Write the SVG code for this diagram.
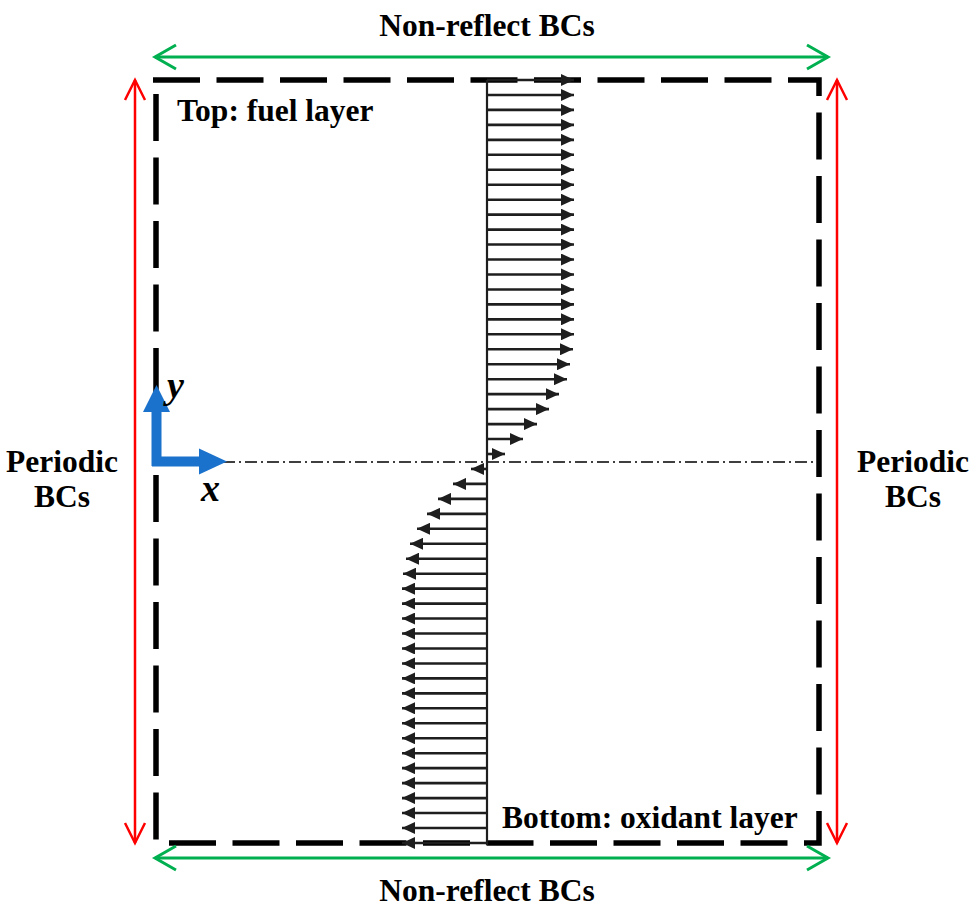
<svg xmlns="http://www.w3.org/2000/svg" width="980" height="916" viewBox="0 0 980 916">
<defs>
<style>
.lbl{font-family:"Liberation Serif","Times New Roman",serif;font-weight:bold;font-size:31.5px;fill:#000}
.ax{font-family:"Liberation Serif","Times New Roman",serif;font-weight:bold;font-style:italic;font-size:38px;fill:#000}
.vel{stroke:#1e1e1e;stroke-width:2.6;fill:none;marker-end:url(#vh)}
.grn{stroke:#00b050;stroke-width:3;fill:none}
.red{stroke:#ff0000;stroke-width:2.5;fill:none}
</style>
<marker id="vh" markerUnits="userSpaceOnUse" markerWidth="13" markerHeight="12" refX="13" refY="6" orient="auto">
<path d="M0,0 L13,6 L0,12 z" fill="#1e1e1e"/>
</marker>
</defs>
<rect width="980" height="916" fill="#fff"/>

<g id="domain">
<path d="M153,80 H819 V843 H156 V80" fill="none" stroke="#000" stroke-width="5.5" stroke-dasharray="47 16.5"/>
</g>

<g id="centerline">
<line x1="157" y1="462" x2="819" y2="462" stroke="#000" stroke-width="1.4" stroke-dasharray="12 4 2 4"/>
</g>

<g id="connectors">
<g id="nonreflect-top">
<line class="grn" x1="155" y1="57" x2="828" y2="57"/>
<path class="grn" d="M176,45 L155,57 L176,69 M807,45 L828,57 L807,69"/>
</g>
<g id="nonreflect-bottom">
<line class="grn" x1="155" y1="858" x2="828" y2="858"/>
<path class="grn" d="M176,846 L155,858 L176,870 M807,846 L828,858 L807,870"/>
</g>
<g id="periodic-left">
<line class="red" x1="135" y1="80" x2="135" y2="843"/>
<path class="red" d="M125,100 L135,80 L145,100 M125,823 L135,843 L145,823"/>
</g>
<g id="periodic-right">
<line class="red" x1="837" y1="80" x2="837" y2="843"/>
<path class="red" d="M827,100 L837,80 L847,100 M827,823 L837,843 L847,823"/>
</g>
</g>

<g id="velocity-profile">
<line x1="487" y1="80" x2="487" y2="845" stroke="#1e1e1e" stroke-width="2.2"/>
<line class="vel" x1="487" y1="80" x2="574" y2="80"/>
<line class="vel" x1="487" y1="94.96" x2="574" y2="94.96"/>
<line class="vel" x1="487" y1="109.92" x2="574" y2="109.92"/>
<line class="vel" x1="487" y1="124.88" x2="574" y2="124.88"/>
<line class="vel" x1="487" y1="139.84" x2="574" y2="139.84"/>
<line class="vel" x1="487" y1="154.8" x2="574" y2="154.8"/>
<line class="vel" x1="487" y1="169.76" x2="574" y2="169.76"/>
<line class="vel" x1="487" y1="184.72" x2="574" y2="184.72"/>
<line class="vel" x1="487" y1="199.68" x2="574" y2="199.68"/>
<line class="vel" x1="487" y1="214.64" x2="574" y2="214.64"/>
<line class="vel" x1="487" y1="229.6" x2="574" y2="229.6"/>
<line class="vel" x1="487" y1="244.56" x2="574" y2="244.56"/>
<line class="vel" x1="487" y1="259.52" x2="574" y2="259.52"/>
<line class="vel" x1="487" y1="274.48" x2="574" y2="274.48"/>
<line class="vel" x1="487" y1="289.44" x2="574" y2="289.44"/>
<line class="vel" x1="487" y1="304.4" x2="574" y2="304.4"/>
<line class="vel" x1="487" y1="319.36" x2="574" y2="319.36"/>
<line class="vel" x1="487" y1="334.32" x2="574" y2="334.32"/>
<line class="vel" x1="487" y1="349.28" x2="573" y2="349.28"/>
<line class="vel" x1="487" y1="364.24" x2="570" y2="364.24"/>
<line class="vel" x1="487" y1="379.2" x2="567" y2="379.2"/>
<line class="vel" x1="487" y1="394.16" x2="559" y2="394.16"/>
<line class="vel" x1="487" y1="409.12" x2="549" y2="409.12"/>
<line class="vel" x1="487" y1="424.08" x2="537" y2="424.08"/>
<line class="vel" x1="487" y1="439.04" x2="523" y2="439.04"/>
<line class="vel" x1="487" y1="454" x2="505" y2="454"/>
<line class="vel" x1="487" y1="468.96" x2="471" y2="468.96"/>
<line class="vel" x1="487" y1="483.92" x2="453" y2="483.92"/>
<line class="vel" x1="487" y1="498.88" x2="438" y2="498.88"/>
<line class="vel" x1="487" y1="513.84" x2="427" y2="513.84"/>
<line class="vel" x1="487" y1="528.8" x2="417" y2="528.8"/>
<line class="vel" x1="487" y1="543.76" x2="410" y2="543.76"/>
<line class="vel" x1="487" y1="558.72" x2="406" y2="558.72"/>
<line class="vel" x1="487" y1="573.68" x2="403" y2="573.68"/>
<line class="vel" x1="487" y1="588.64" x2="402" y2="588.64"/>
<line class="vel" x1="487" y1="603.6" x2="402" y2="603.6"/>
<line class="vel" x1="487" y1="618.56" x2="402" y2="618.56"/>
<line class="vel" x1="487" y1="633.52" x2="402" y2="633.52"/>
<line class="vel" x1="487" y1="648.48" x2="402" y2="648.48"/>
<line class="vel" x1="487" y1="663.44" x2="402" y2="663.44"/>
<line class="vel" x1="487" y1="678.4" x2="402" y2="678.4"/>
<line class="vel" x1="487" y1="693.36" x2="402" y2="693.36"/>
<line class="vel" x1="487" y1="708.32" x2="402" y2="708.32"/>
<line class="vel" x1="487" y1="723.28" x2="402" y2="723.28"/>
<line class="vel" x1="487" y1="738.24" x2="402" y2="738.24"/>
<line class="vel" x1="487" y1="753.2" x2="402" y2="753.2"/>
<line class="vel" x1="487" y1="768.16" x2="402" y2="768.16"/>
<line class="vel" x1="487" y1="783.12" x2="402" y2="783.12"/>
<line class="vel" x1="487" y1="798.08" x2="402" y2="798.08"/>
<line class="vel" x1="487" y1="813.04" x2="402" y2="813.04"/>
<line class="vel" x1="487" y1="828" x2="402" y2="828"/>
<line class="vel" x1="487" y1="843" x2="402" y2="843"/>
</g>

<g id="axes">
<path d="M152,461.5 H201 M156.5,466 V410" stroke="#1b72cc" stroke-width="10" fill="none"/>
<path d="M143,412 L156.5,385 L170,412 z" fill="#1b72cc"/>
<path d="M199,448.5 L227,461.5 L199,474.5 z" fill="#1b72cc"/>
<text class="ax" x="167" y="398">y</text>
<text class="ax" x="201" y="501">x</text>
</g>

<g id="labels">
<text class="lbl" x="487" y="36" text-anchor="middle">Non-reflect BCs</text>
<text class="lbl" x="487" y="901" text-anchor="middle">Non-reflect BCs</text>
<text class="lbl" x="177" y="121">Top: fuel layer</text>
<text class="lbl" x="502" y="828">Bottom: oxidant layer</text>
<text class="lbl" x="62" y="472" text-anchor="middle">Periodic</text>
<text class="lbl" x="62" y="507" text-anchor="middle">BCs</text>
<text class="lbl" x="913" y="472" text-anchor="middle">Periodic</text>
<text class="lbl" x="913" y="507" text-anchor="middle">BCs</text>
</g>
</svg>
